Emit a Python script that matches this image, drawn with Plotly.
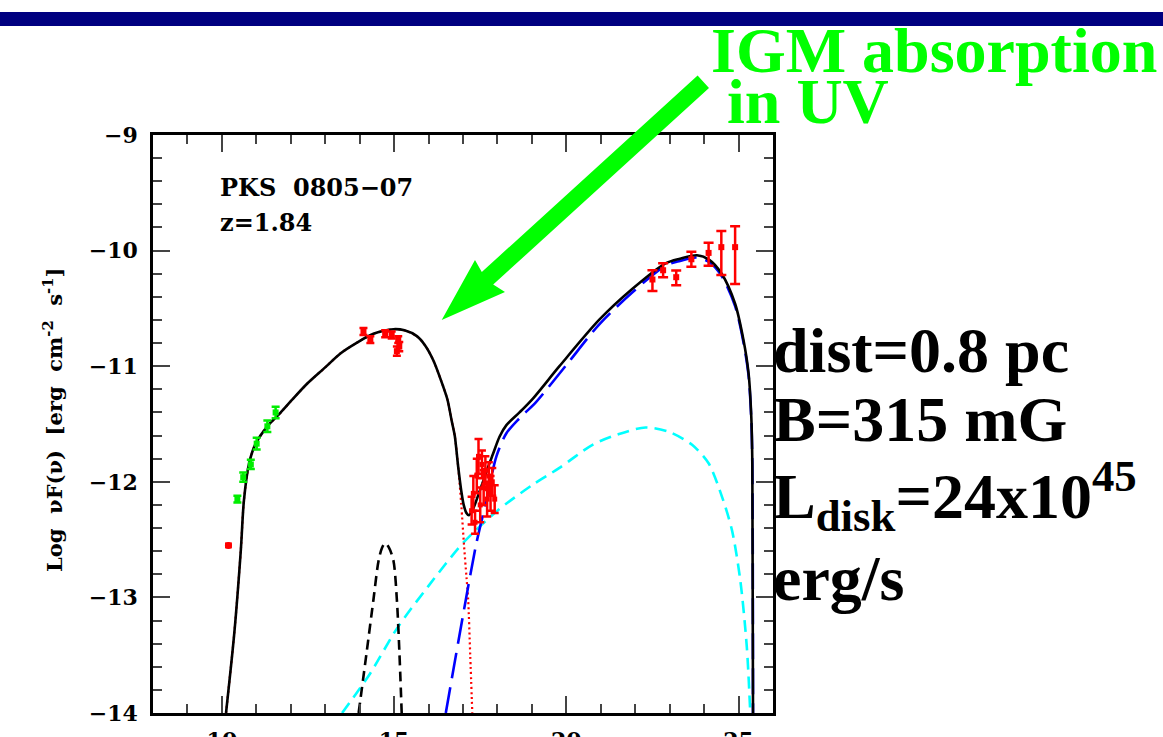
import plotly.graph_objects as go

# ---------------- data (log nu, log nuFnu) ----------------
radio_x = [10.19]
radio_y = [-12.55]
radio_xerr = [0.1]

opt_x = [10.45, 10.62, 10.84, 11.01, 11.32, 11.56]
opt_y = [-12.15, -11.96, -11.85, -11.67, -11.52, -11.40]
opt_err = [0.03, 0.04, 0.04, 0.05, 0.05, 0.05]

uv_x = [14.11, 14.31, 14.74, 14.93, 15.08, 15.12, 15.15]
uv_y = [-10.70, -10.77, -10.72, -10.73, -10.87, -10.77, -10.83]
uv_err = [0.03, 0.03, 0.03, 0.03, 0.04, 0.03, 0.04]

xr_x = [17.25, 17.30, 17.35, 17.40, 17.45, 17.50, 17.55, 17.60, 17.65, 17.70, 17.75, 17.80, 17.85, 17.92]
xr_y = [-12.25, -12.10, -12.35, -11.95, -11.78, -12.20, -11.85, -12.05, -11.90, -12.15, -11.95, -12.10, -12.00, -12.15]
xr_err = [0.12, 0.15, 0.10, 0.15, 0.15, 0.15, 0.12, 0.15, 0.12, 0.15, 0.12, 0.15, 0.12, 0.12]

gam_x = [22.50, 22.81, 23.19, 23.63, 24.13, 24.50, 24.90]
gam_y = [-10.25, -10.17, -10.23, -10.075, -10.02, -9.97, -9.97]
gam_up = [0.08, 0.06, 0.058, 0.065, 0.087, 0.14, 0.18]
gam_dn = [0.10, 0.06, 0.07, 0.065, 0.11, 0.24, 0.32]

# total model (black solid)
tot_x = [10.12, 10.36, 10.55, 10.64, 10.79, 10.98, 11.32, 11.71, 12.04, 12.48, 13.0, 13.44,
         13.9, 14.40, 14.98, 15.3, 15.66, 15.9, 16.14, 16.43, 16.55, 16.67, 16.76, 16.86,
         16.95, 17.02, 17.10, 17.17, 17.25, 17.34, 17.46, 17.58, 17.72, 17.87, 18.06, 18.26,
         18.64, 19.03, 19.8, 20.95, 21.92, 22.88, 23.3, 23.79, 24.15, 24.51, 24.90, 25.14,
         25.29, 25.37, 25.40, 25.42]
tot_y = [-14.0, -13.31, -12.59, -12.16, -11.84, -11.67, -11.52, -11.40, -11.29, -11.15, -11.01, -10.89,
         -10.80, -10.72, -10.68, -10.69, -10.74, -10.82, -10.95, -11.18, -11.29, -11.47, -11.60, -11.87,
         -12.08, -12.20, -12.27, -12.29, -12.26, -12.20, -12.10, -12.00, -11.88, -11.76, -11.61, -11.51,
         -11.40, -11.28, -11.00, -10.60, -10.33, -10.11, -10.07, -10.04, -10.08, -10.20, -10.46, -10.77,
         -11.06, -11.44, -11.84, -14.0]

# synchrotron (red dotted)
syn_x = [10.12, 10.36, 10.55, 10.64, 10.79, 10.98, 11.32, 11.71, 12.04, 12.48, 13.0, 13.44,
         13.9, 14.40, 14.98, 15.3, 15.66, 15.9, 16.14, 16.43, 16.55, 16.67, 16.76, 16.86,
         16.95, 17.03, 17.10, 17.15, 17.21, 17.27]
syn_y = [-14.0, -13.31, -12.59, -12.16, -11.84, -11.67, -11.52, -11.40, -11.29, -11.15, -11.01, -10.89,
         -10.80, -10.72, -10.68, -10.69, -10.74, -10.82, -10.95, -11.18, -11.29, -11.47, -11.60, -11.87,
         -12.20, -12.55, -12.82, -13.02, -13.50, -14.0]

# accretion disk (black dashed)
disk_x = [13.97, 14.2, 14.40, 14.55, 14.65, 14.74, 14.85, 14.98, 15.08, 15.15, 15.22]
disk_y = [-14.0, -13.48, -13.02, -12.68, -12.57, -12.53, -12.57, -12.68, -13.02, -13.45, -14.0]

# SSC (cyan dashed)
ssc_x = [13.49, 14.3, 15.08, 16.0, 17.0, 18.0, 19.0, 19.8, 20.76, 21.5, 22.3, 23.0, 23.65,
         24.13, 24.52, 24.81, 25.05, 25.24, 25.34]
ssc_y = [-14.0, -13.66, -13.27, -12.90, -12.53, -12.25, -12.03, -11.88, -11.68, -11.59, -11.53, -11.57, -11.68,
         -11.84, -12.13, -12.42, -12.85, -13.43, -14.0]

# external Compton (blue long dash)
ec_x = [16.50, 17.10, 17.39, 17.68, 17.97, 18.26, 18.64, 19.12, 20.0, 20.95, 21.92, 22.88,
        23.3, 23.79, 24.15, 24.51, 24.90, 25.14, 25.29, 25.37, 25.40, 25.42]
ec_y = [-14.0, -12.99, -12.53, -12.16, -11.78, -11.58, -11.45, -11.31, -10.99, -10.64, -10.36, -10.13,
        -10.09, -10.06, -10.10, -10.22, -10.48, -10.79, -11.08, -11.46, -11.86, -14.0]

x_ticks = [10, 15, 20, 25]
y_ticks = [-14, -13, -12, -11, -10, -9]

# ---------------- figure ----------------
W, H = 1163, 737
L, R, T, B = 153, 390, 135, 24
PW, PH = W - L - R, H - T - B


def px(x):
    return (x - L) / PW


def py(y):
    return (H - B - y) / PH


fig = go.Figure()

lw = 2.6
fig.add_trace(go.Scatter(x=ssc_x, y=ssc_y, mode="lines",
                         line=dict(color="#00ffff", width=lw, dash="12px,7px", shape="spline", smoothing=0.8)))
fig.add_trace(go.Scatter(x=disk_x, y=disk_y, mode="lines",
                         line=dict(color="black", width=lw, dash="10px,6px", shape="spline", smoothing=0.8)))
fig.add_trace(go.Scatter(x=syn_x, y=syn_y, mode="lines",
                         line=dict(color="#ff0000", width=2.2, dash="2px,3px", shape="spline", smoothing=0.8)))
fig.add_trace(go.Scatter(x=ec_x, y=ec_y, mode="lines",
                         line=dict(color="#0000ff", width=lw, dash="26px,9px", shape="spline", smoothing=0.8)))
fig.add_trace(go.Scatter(x=tot_x, y=tot_y, mode="lines",
                         line=dict(color="black", width=lw, shape="spline", smoothing=0.8)))

eb = dict(type="data", thickness=2.5, width=4)
fig.add_trace(go.Scatter(x=radio_x, y=radio_y, mode="markers",
                         marker=dict(symbol="circle", size=7, color="#ff0000"),
                         error_x=dict(type="data", array=radio_xerr, color="#ff0000", thickness=6, width=0)))
fig.add_trace(go.Scatter(x=opt_x, y=opt_y, mode="markers",
                         marker=dict(symbol="square", size=6, color="#00ee00"),
                         error_y=dict(array=opt_err, color="#00ee00", **eb)))
fig.add_trace(go.Scatter(x=uv_x, y=uv_y, mode="markers",
                         marker=dict(symbol="square", size=6, color="#ff0000"),
                         error_y=dict(array=uv_err, color="#ff0000", **eb)))
fig.add_trace(go.Scatter(x=xr_x, y=xr_y, mode="markers",
                         marker=dict(symbol="square", size=5, color="#ff0000"),
                         error_y=dict(array=xr_err, color="#ff0000", **eb)))
fig.add_trace(go.Scatter(x=gam_x, y=gam_y, mode="markers",
                         marker=dict(symbol="square", size=6, color="#ff0000"),
                         error_y=dict(array=gam_up, arrayminus=gam_dn, color="#ff0000",
                                      type="data", thickness=2.5, width=5)))

axfont = dict(family="DejaVu Serif", size=22, color="black", weight="bold")
fig.update_xaxes(range=[8, 26], tickvals=x_ticks, ticks="inside", ticklen=17, tickwidth=2,
                 showline=True, linewidth=2.5, linecolor="black", mirror="ticks",
                 showgrid=False, zeroline=False, tickfont=axfont, automargin=False,
                 ticklabelstandoff=6,
                 minor=dict(dtick=1, tick0=0, ticks="inside", ticklen=9, tickwidth=2, showgrid=False))
fig.update_yaxes(range=[-14, -9], tickvals=y_ticks, ticks="inside", ticklen=17, tickwidth=2,
                 showline=True, linewidth=2.5, linecolor="black", mirror="ticks",
                 showgrid=False, zeroline=False, tickfont=axfont, ticklabelstandoff=8, automargin=False,
                 minor=dict(dtick=0.2, tick0=0, ticks="inside", ticklen=9, tickwidth=2, showgrid=False))

# arrow polygon (pixel coords -> paper)
arrow_px = [(441.7, 320.0), (475.0, 260.0), (481.8, 272.0), (697.6, 75.4),
            (709.0, 88.0), (493.2, 284.6), (505.0, 292.0)]
path = "M " + " L ".join(f"{px(a):.5f},{py(b):.5f}" for a, b in arrow_px) + " Z"

shapes = [
    dict(type="rect", xref="paper", yref="paper", x0=px(0), x1=px(W), y0=py(26), y1=py(12),
         fillcolor="#000080", line=dict(width=0), layer="above"),
    dict(type="path", xref="paper", yref="paper", path=path, fillcolor="#00ff00",
         line=dict(width=0), layer="above"),
]

big = dict(family="Liberation Serif", size=64)
annotations = [
    dict(text="<b>IGM absorption</b>", x=px(709), y=py(88), xref="paper", yref="paper",
         xanchor="left", yanchor="bottom", showarrow=False, font=dict(color="#00ff00", **big)),
    dict(text="<b>in UV</b>", x=px(725), y=py(139), xref="paper", yref="paper",
         xanchor="left", yanchor="bottom", showarrow=False, font=dict(color="#00ff00", **big)),
    dict(text="<b>dist=0.8 pc</b>", x=px(771), y=py(388), xref="paper", yref="paper",
         xanchor="left", yanchor="bottom", showarrow=False, font=dict(color="black", **big)),
    dict(text="<b>B=315 mG</b>", x=px(771), y=py(457), xref="paper", yref="paper",
         xanchor="left", yanchor="bottom", showarrow=False, font=dict(color="black", **big)),
    dict(text="<b>L<sub>disk</sub>=24x10<sup>45</sup></b>", x=px(771), y=py(543), xref="paper", yref="paper",
         xanchor="left", yanchor="bottom", showarrow=False, font=dict(color="black", **big)),
    dict(text="<b>erg/s</b>", x=px(771), y=py(616), xref="paper", yref="paper",
         xanchor="left", yanchor="bottom", showarrow=False, font=dict(color="black", **big)),
    dict(text="PKS  0805\u221207", x=px(218), y=py(204), xref="paper", yref="paper",
         xanchor="left", yanchor="bottom", showarrow=False,
         font=dict(family="DejaVu Serif", size=24, color="black", weight="bold")),
    dict(text="z=1.84", x=px(218), y=py(239), xref="paper", yref="paper",
         xanchor="left", yanchor="bottom", showarrow=False,
         font=dict(family="DejaVu Serif", size=24, color="black", weight="bold")),
    dict(text="Log  \u03bdF(\u03bd)  [erg  cm<sup>-2</sup>  s<sup>-1</sup>]", x=px(53), y=py(420),
         xref="paper", yref="paper", xanchor="center", yanchor="middle", textangle=-90,
         showarrow=False, font=dict(family="DejaVu Serif", size=21, color="black", weight="bold")),
]

fig.update_layout(width=W, height=H, margin=dict(l=L, r=R, t=T, b=B, pad=0),
                  paper_bgcolor="white", plot_bgcolor="white", showlegend=False,
                  shapes=shapes, annotations=annotations)

fig.write_html("out.html")
